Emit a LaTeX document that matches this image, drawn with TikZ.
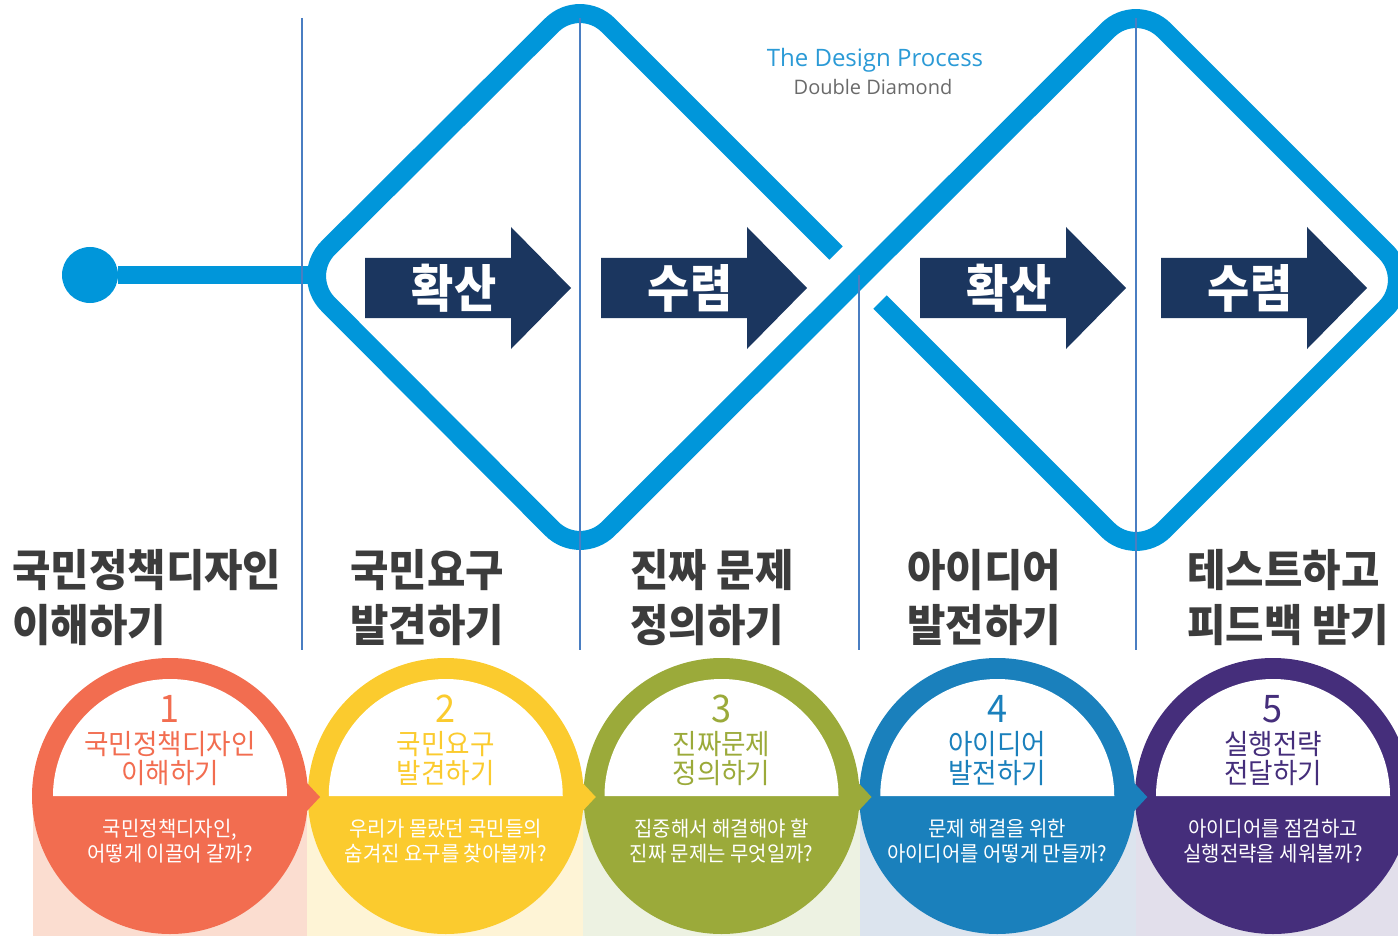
\documentclass[tikz,border=0pt]{standalone}
\usepackage{fontspec}
\setmainfont{Open Sans}
\newfontfamily\krfont{Noto Sans CJK KR}[FakeStretch=0.95]
\newfontfamily\krarrow{Noto Sans CJK KR}[FakeStretch=0.9]

\definecolor{ddblue}{HTML}{0096DA}
\definecolor{divline}{HTML}{4A7EC2}
\definecolor{navy}{HTML}{1B365F}
\definecolor{headgray}{HTML}{3C3C3C}
\definecolor{titleblue}{HTML}{2B9AD6}
\definecolor{subgray}{HTML}{6A6A6A}
\definecolor{stepone}{HTML}{F26D50}
\definecolor{steptwo}{HTML}{FBCB2E}
\definecolor{stepthree}{HTML}{9BAA3A}
\definecolor{stepfour}{HTML}{1A80BC}
\definecolor{stepfive}{HTML}{452E7B}
\definecolor{paleone}{HTML}{FBDDD0}
\definecolor{paletwo}{HTML}{FEF4D6}
\definecolor{palethree}{HTML}{EDF2E2}
\definecolor{palefour}{HTML}{DCE4EE}
\definecolor{palefive}{HTML}{E2DFEB}

\begin{document}
\begin{tikzpicture}[x=1pt,y=-1pt]
	\tikzset{ddpath/.style = {draw=ddblue, line width=19pt, rounded corners=40pt}}
	\tikzset{divider/.style = {draw=divline, line width=2pt}}
	\tikzset{heading/.style = {anchor=base west, inner sep=0pt, text=headgray, font=\krfont\bfseries\fontsize{44}{54}\selectfont}}
	\tikzset{arrowlabel/.style = {anchor=base, inner sep=0pt, text=white, font=\krarrow\bfseries\fontsize{51}{60}\selectfont}}
	\tikzset{stepdisc/.style = {shape=circle, inner sep=0pt, minimum size=276pt}}
	\tikzset{stepnum/.style = {anchor=base, inner sep=0pt, font=\krfont\fontsize{38}{40}\selectfont}}
	\tikzset{steptitle/.style = {anchor=base, inner sep=0pt, font=\krfont\fontsize{28}{30}\selectfont}}
	\tikzset{stepquest/.style = {anchor=base, inner sep=0pt, text=white, font=\krfont\fontsize{21}{23}\selectfont}}

	\useasboundingbox (0,0) rectangle (1398,936);
	\clip (0,0) rectangle (1398,936);

	% double diamond
	\coordinate (t1) at (580,-3);
	\coordinate (l1) at (300,276);
	\coordinate (b1) at (580,557);
	\coordinate (e1) at (836,253);
	\coordinate (t2) at (1136,2);
	\coordinate (r2) at (1414,280);
	\coordinate (b2) at (1136,558);
	\coordinate (e2) at (880,302);
	\coordinate (lx) at (316,275);

	\draw[ddpath] (e1) -- (t1) -- (l1) -- (b1) -- (t2) -- (r2) -- (b2) -- (e2);

	\node[shape=circle, fill=ddblue, inner sep=0pt, minimum size=56pt] (start) at (90,275) {};
	\draw[ddblue, line width=18pt] (start) -- (lx);

	\node[anchor=base, inner sep=0pt, text=titleblue, font=\fontsize{24}{26}\selectfont] (ddtitle) at (875,67) {The Design Process};
	\node[anchor=base, inner sep=0pt, text=subgray, font=\fontsize{20}{22}\selectfont] (ddsub) at (873,95) {Double Diamond};

	% arrows
	\foreach \x/\lbl [count=\i] in {365/확산, 601/수렴, 920/확산, 1161/수렴} {
		\fill[navy] (\x,258) -- ++(146,0) -- ++(0,-31) -- ++(60,61) -- ++(-60,61) -- ++(0,-31) -- ++(-146,0) -- cycle;
		\node[arrowlabel] (arrow\i) at (\x+89,307) {\lbl};
	}

	% dividers
	\foreach \x/\ytop in {302/18, 580/18, 859/275, 1136/18}
		\draw[divider] (\x,\ytop) -- (\x,650);

	\foreach \x/\lna/\lnb [count=\i] in {12/국민정책디자인/이해하기, 350/국민요구/발견하기, 630/진짜 문제/정의하기, 907/아이디어/발전하기, 1187/테스트하고/피드백 받기} {
		\node[heading] (headtop\i) at (\x,586) {\lna};
		\node[heading] (headbot\i) at (\x,641) {\lnb};
	}

	% steps
	\foreach \xa/\xb/\col in {33/307/paleone, 307/583/paletwo, 583/860/palethree, 860/1136/palefour, 1136/1398/palefive}
		\fill[\col] (\xa,796) rectangle (\xb,936);

	\foreach \col [count=\i, evaluate=\i as \cx using 170+275.75*(\i-1)] in {stepone, steptwo, stepthree, stepfour, stepfive} {
		\node[stepdisc, fill=\col] (disc\i) at (\cx,796) {};
		\fill[white] (\cx-117,796) arc[start angle=180, end angle=0, radius=117pt] -- cycle;
	}

	\foreach \col [count=\i, evaluate=\i as \cx using 170+275.75*(\i-1)] in {stepone, steptwo, stepthree, stepfour}
		\fill[\col] (\cx+136,782) -- (\cx+150,797) -- (\cx+136,812) -- cycle;

	\foreach \col/\ta/\tb/\qa/\qb [count=\i, evaluate=\i as \cx using 170+275.75*(\i-1)] in {
		stepone/국민정책디자인/이해하기/{국민정책디자인,}/어떻게 이끌어 갈까?,
		steptwo/국민요구/발견하기/우리가 몰랐던 국민들의/숨겨진 요구를 찾아볼까?,
		stepthree/진짜문제/정의하기/집중해서 해결해야 할/진짜 문제는 무엇일까?,
		stepfour/아이디어/발전하기/문제 해결을 위한/아이디어를 어떻게 만들까?,
		stepfive/실행전략/전달하기/아이디어를 점검하고/실행전략을 세워볼까?} {
		\node[stepnum, text=\col] (num\i) at (\cx,722) {\i};
		\node[steptitle, text=\col] (titletop\i) at (\cx,754) {\ta};
		\node[steptitle, text=\col] (titlebot\i) at (\cx,783) {\tb};
		\node[stepquest] (questtop\i) at (\cx,836) {\qa};
		\node[stepquest] (questbot\i) at (\cx,861) {\qb};
	}

\end{tikzpicture}
\end{document}
